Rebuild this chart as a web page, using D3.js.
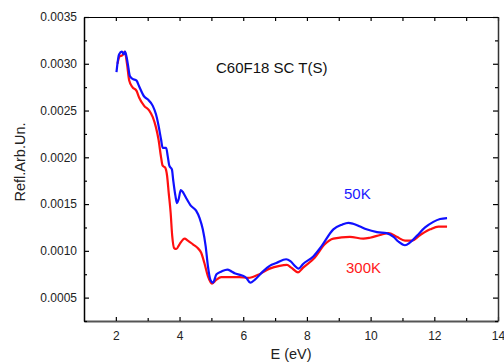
<!DOCTYPE html>
<html>
<head>
    <meta charset="utf-8">
    <title>C60F18 SC T(S)</title>
    <script src="https://cdn.jsdelivr.net/npm/d3@7"></script>
    <style>
        body { margin: 0; background: #fff; }
        text { font-family: "Liberation Sans", Arial, sans-serif; }
    </style>
</head>
<body>
<script>
    // Reflectivity, 50K (blue)
    var e50 = [2.02, 2.1, 2.19, 2.25, 2.29, 2.37, 2.44, 2.52, 2.65, 2.73, 2.89, 3.0, 3.16, 3.26, 3.34, 3.42, 3.47, 3.58, 3.63, 3.68, 3.76, 3.8, 3.87, 3.92, 3.97, 4.04, 4.12, 4.2, 4.36, 4.52, 4.63, 4.73, 4.82, 4.89, 4.97, 5.05, 5.16, 5.32, 5.5, 5.63, 5.73, 5.94, 6.1, 6.22, 6.36, 6.62, 6.83, 7.04, 7.35, 7.48, 7.62, 7.74, 7.88, 8.2, 8.46, 8.83, 9.1, 9.3, 9.45, 9.67, 9.87, 10.2, 10.5, 10.72, 10.87, 11.08, 11.24, 11.45, 11.71, 11.97, 12.18, 12.4];
    var r50 = [0.00291, 0.00310, 0.00313, 0.00310, 0.00313, 0.00301, 0.00287, 0.00284, 0.00282, 0.00276, 0.00265, 0.00262, 0.00255, 0.00246, 0.00234, 0.00219, 0.00210, 0.00210, 0.00201, 0.00191, 0.00187, 0.00176, 0.00159, 0.00151, 0.00155, 0.00165, 0.00162, 0.00157, 0.00148, 0.00143, 0.00135, 0.00123, 0.00105, 0.00084, 0.00069, 0.00066, 0.00075, 0.00078, 0.00080, 0.00078, 0.00076, 0.00074, 0.00071, 0.00066, 0.00069, 0.00078, 0.00084, 0.00087, 0.00091, 0.00089, 0.00084, 0.00081, 0.00086, 0.00094, 0.00105, 0.00123, 0.00128, 0.00130, 0.00129, 0.00126, 0.00123, 0.00120, 0.00119, 0.00115, 0.00110, 0.00106, 0.00109, 0.00116, 0.00125, 0.00131, 0.00134, 0.00135];

    // Reflectivity, 300K (red)
    var e300 = [2.05, 2.12, 2.2, 2.28, 2.35, 2.42, 2.52, 2.65, 2.73, 2.89, 3.05, 3.16, 3.26, 3.34, 3.42, 3.47, 3.55, 3.61, 3.66, 3.72, 3.77, 3.83, 3.9, 4.0, 4.16, 4.26, 4.42, 4.57, 4.68, 4.78, 4.89, 5.02, 5.15, 5.31, 5.57, 5.88, 6.14, 6.3, 6.51, 6.83, 7.14, 7.37, 7.51, 7.72, 7.88, 8.25, 8.56, 8.83, 9.35, 9.77, 9.98, 10.3, 10.56, 10.82, 11.08, 11.29, 11.56, 11.87, 12.13, 12.4];
    var r300 = [0.00300, 0.00308, 0.00309, 0.00313, 0.00300, 0.00282, 0.00275, 0.00271, 0.00264, 0.00255, 0.00250, 0.00243, 0.00232, 0.00219, 0.00200, 0.00191, 0.00189, 0.00180, 0.00162, 0.00141, 0.00116, 0.00103, 0.00102, 0.00107, 0.00113, 0.00111, 0.00107, 0.00103, 0.00098, 0.00087, 0.00073, 0.00065, 0.00069, 0.00072, 0.00072, 0.00072, 0.00071, 0.00072, 0.00075, 0.00081, 0.00084, 0.00085, 0.00082, 0.00077, 0.00082, 0.00093, 0.00107, 0.00113, 0.00115, 0.00113, 0.00114, 0.00117, 0.00119, 0.00115, 0.00111, 0.00111, 0.00117, 0.00123, 0.00126, 0.00126];

    var xTicks = [2, 4, 6, 8, 10, 12, 14];
    var xMinor = [3, 5, 7, 9, 11, 13];
    var yTicks = [0.0005, 0.0010, 0.0015, 0.0020, 0.0025, 0.0030, 0.0035];
    var yMinor = [0.00025, 0.00075, 0.00125, 0.00175, 0.00225, 0.00275, 0.00325];

    var svgWidth = 504, svgHeight = 362;
    // plot frame (note: "top" is a reserved window property, so use other names)
    var plotLeft = 84, plotRight = 498, plotTop = 17, plotBottom = 321;

    var x = d3.scaleLinear().domain([1, 14]).range([plotLeft, plotRight]);
    var y = d3.scaleLinear().domain([0.00025, 0.0035]).range([plotBottom, plotTop]);

    var svg = d3.select("body").append("svg")
        .attr("width", svgWidth)
        .attr("height", svgHeight);

    // curves
    var line = d3.line()
        .x(function(d) { return x(d[0]); })
        .y(function(d) { return y(d[1]); })
        .curve(d3.curveMonotoneX);

    svg.append("path")
        .datum(d3.zip(e300, r300))
        .attr("d", line)
        .attr("fill", "none")
        .attr("stroke", "#ff1010")
        .attr("stroke-width", 2.2);

    svg.append("path")
        .datum(d3.zip(e50, r50))
        .attr("d", line)
        .attr("fill", "none")
        .attr("stroke", "#1010ff")
        .attr("stroke-width", 2.2);

    // axes, ticks pointing inward
    function styleAxis(g, color, width) {
        g.select(".domain").attr("stroke", color).attr("stroke-width", width);
        g.selectAll(".tick line").attr("stroke", "#000").attr("stroke-width", 1.2);
        g.selectAll("text").attr("fill", "#222").style("font-size", "12px")
            .style("font-family", "'Liberation Sans', Arial, sans-serif");
    }
    function minorLines(g) {
        g.select(".domain").remove();
        g.selectAll("line").attr("stroke", "#000").attr("stroke-width", 1.2);
    }

    var gb = svg.append("g").attr("transform", "translate(0," + plotBottom + ")")
        .call(d3.axisBottom(x).tickValues(xTicks).tickSize(-4).tickPadding(10).tickSizeOuter(0));
    styleAxis(gb, "#555", 2);
    svg.append("g").attr("transform", "translate(0," + plotBottom + ")")
        .call(d3.axisBottom(x).tickValues(xMinor).tickSize(-3).tickFormat("").tickSizeOuter(0))
        .call(minorLines);

    var gt = svg.append("g").attr("transform", "translate(0," + plotTop + ")")
        .call(d3.axisTop(x).tickValues(xTicks.concat(xMinor)).tickSize(-4).tickFormat("").tickSizeOuter(0));
    styleAxis(gt, "#000", 1.2);

    var gl = svg.append("g").attr("transform", "translate(" + plotLeft + ",0)")
        .call(d3.axisLeft(y).tickValues(yTicks).tickSize(-5).tickPadding(7)
            .tickFormat(d3.format(".4f")).tickSizeOuter(0));
    styleAxis(gl, "#000", 1.5);
    svg.append("g").attr("transform", "translate(" + plotLeft + ",0)")
        .call(d3.axisLeft(y).tickValues(yMinor).tickSize(-3).tickFormat("").tickSizeOuter(0))
        .call(minorLines);

    var gr = svg.append("g").attr("transform", "translate(" + plotRight + ",0)")
        .call(d3.axisRight(y).tickValues(yTicks).tickSize(-5).tickFormat("").tickSizeOuter(0));
    styleAxis(gr, "#333", 1.5);
    svg.append("g").attr("transform", "translate(" + plotRight + ",0)")
        .call(d3.axisRight(y).tickValues(yMinor).tickSize(-3).tickFormat("").tickSizeOuter(0))
        .call(minorLines);

    // titles and labels
    svg.append("text")
        .attr("x", 291)
        .attr("y", 359)
        .attr("text-anchor", "middle")
        .style("font-size", "14.5px")
        .attr("fill", "#222")
        .text("E (eV)");

    svg.append("text")
        .attr("transform", "translate(25,162) rotate(-90)")
        .attr("text-anchor", "middle")
        .style("font-size", "14.5px")
        .attr("fill", "#222")
        .text("Refl.Arb.Un.");

    svg.append("text")
        .attr("x", 216)
        .attr("y", 73)
        .style("font-size", "15px")
        .attr("fill", "#111")
        .text("C60F18 SC T(S)");

    svg.append("text")
        .attr("x", 344)
        .attr("y", 199)
        .style("font-size", "15px")
        .attr("fill", "#1a1aff")
        .text("50K");

    svg.append("text")
        .attr("x", 346)
        .attr("y", 273)
        .style("font-size", "15px")
        .attr("fill", "#ff1a1a")
        .text("300K");
</script>
</body>
</html>
